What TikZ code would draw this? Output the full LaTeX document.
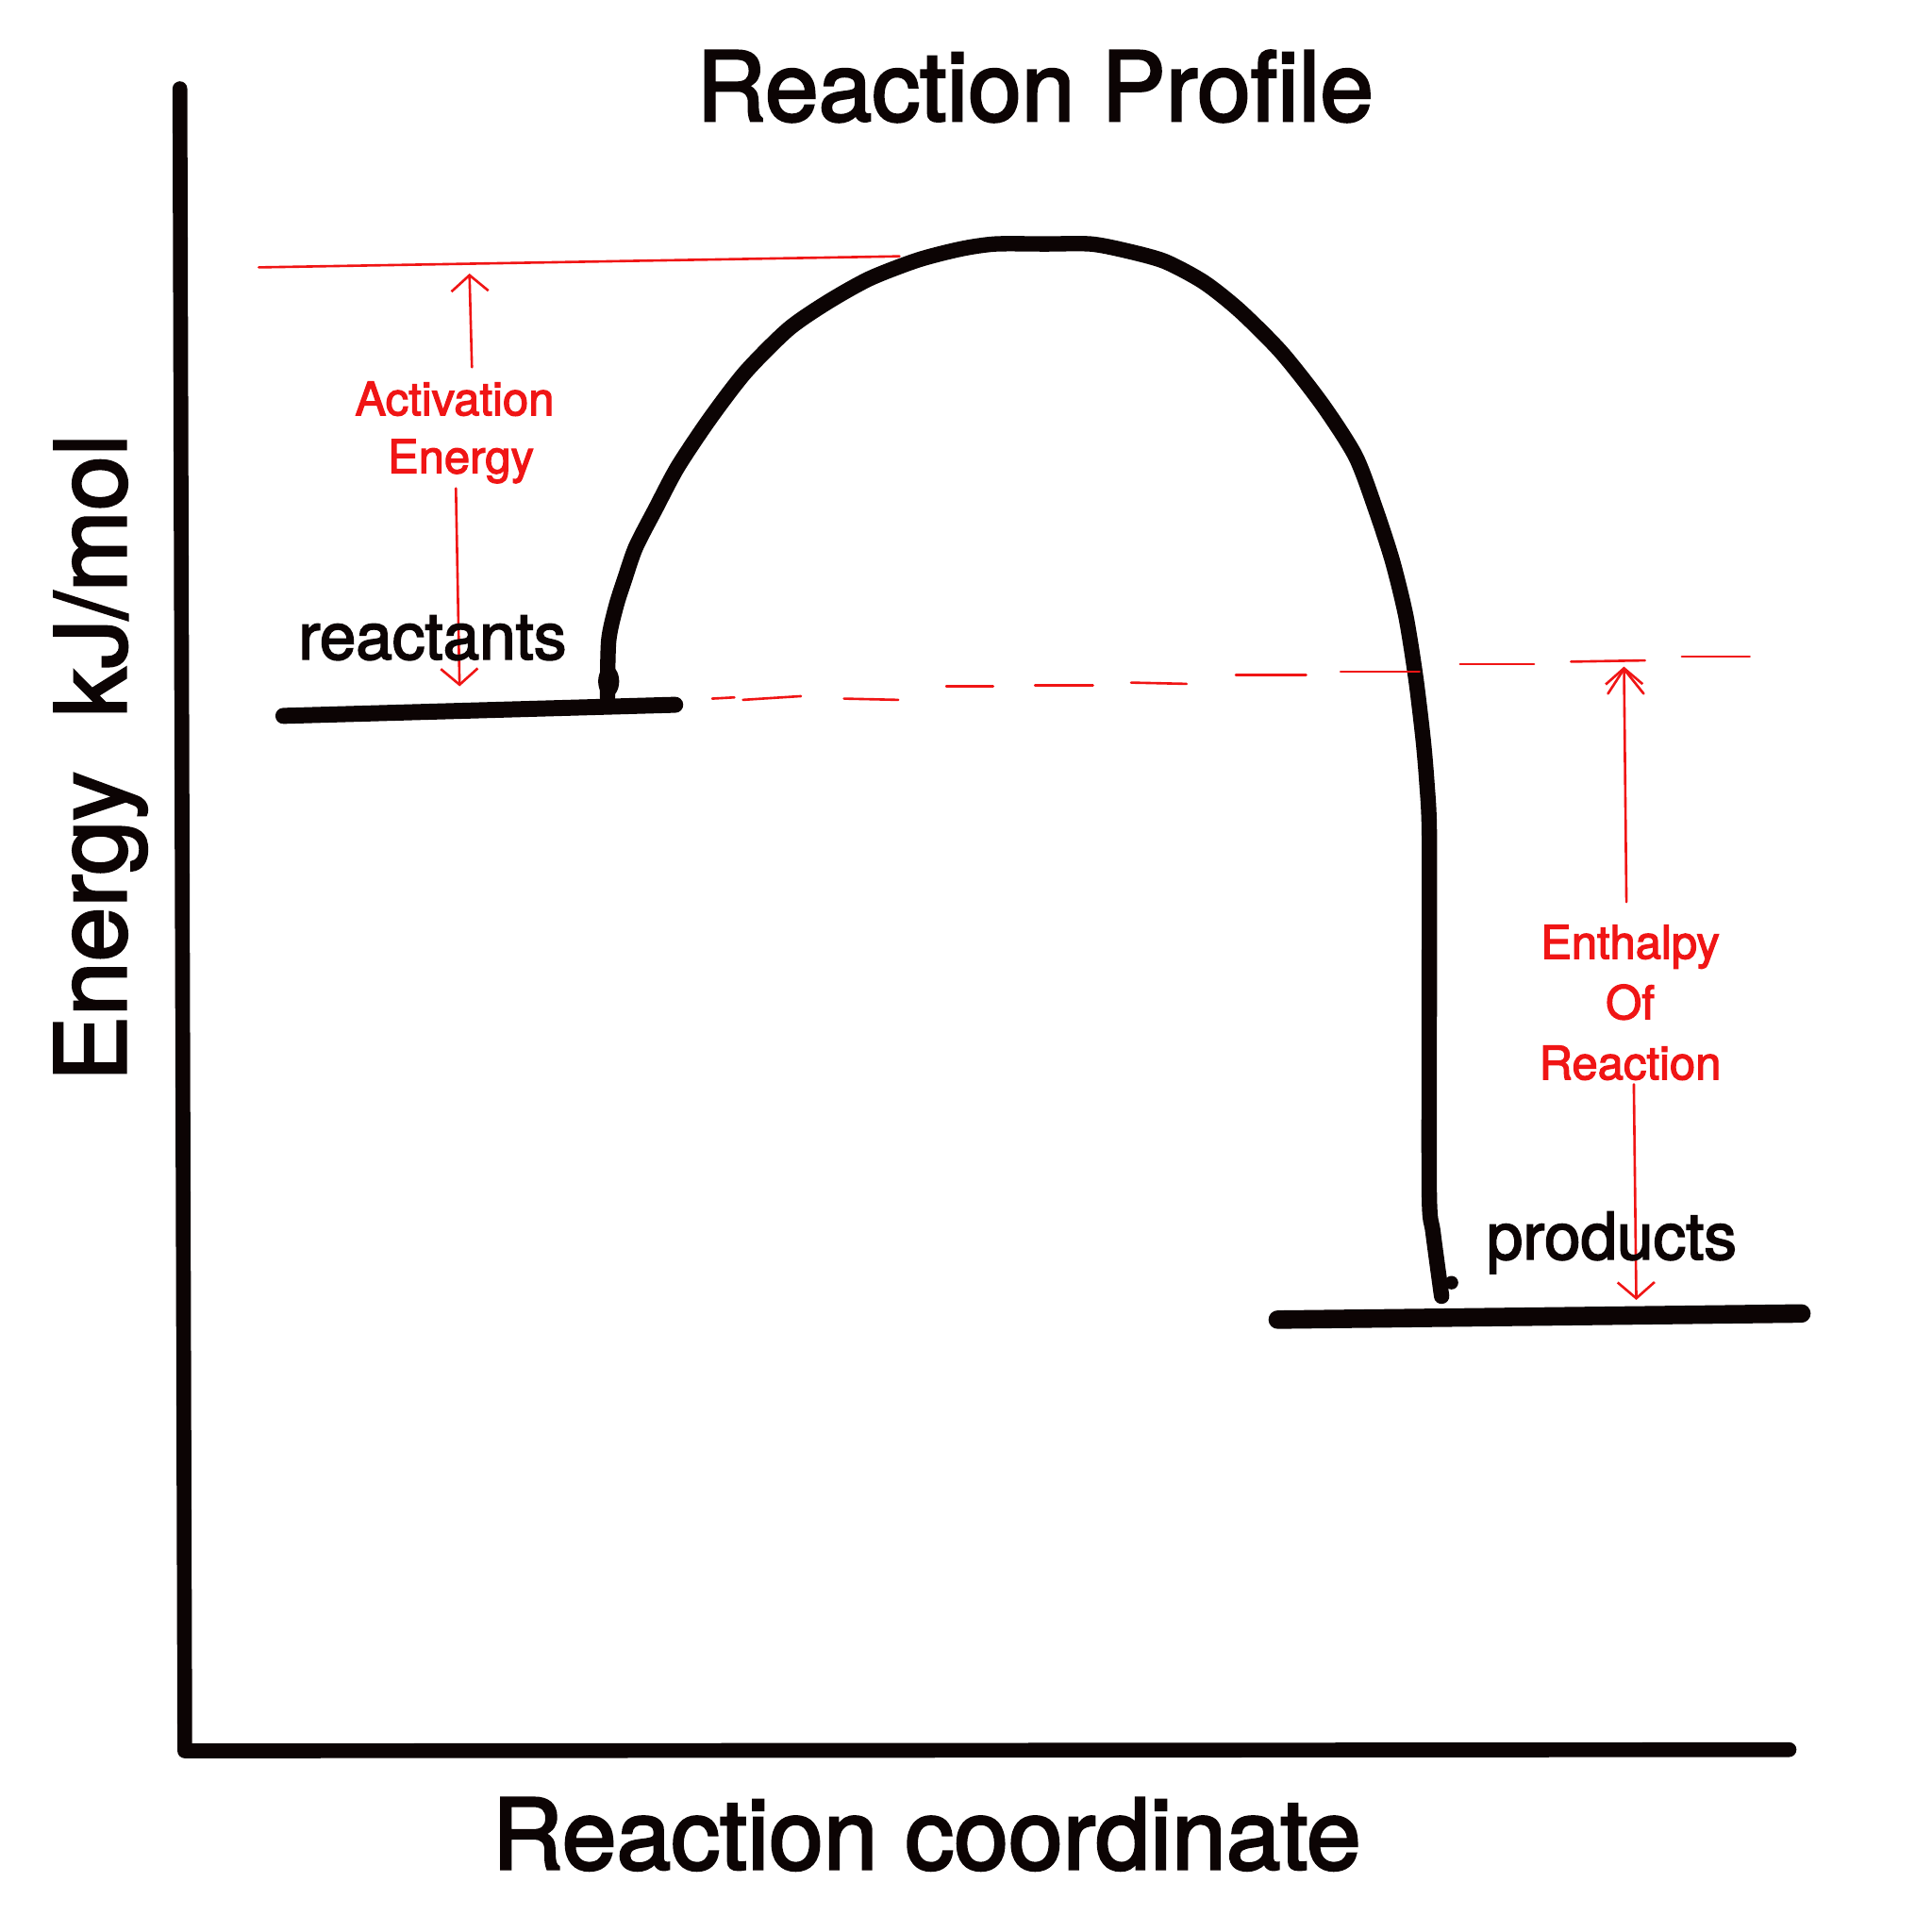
\documentclass[tikz,border=0pt]{standalone}
\usepackage{fontspec}
\usetikzlibrary{arrows.meta}
\setmainfont{TeX Gyre Heros}
\newfontfamily\hvm{TeX Gyre Heros}[BoldFont={TeX Gyre Heros}, BoldFeatures={FakeBold=2.5}]
\definecolor{ink}{HTML}{0C0404}
\definecolor{pen}{HTML}{F01515}
\tikzset{
  thick line/.style={draw=ink, line width=12pt, line cap=round, line join=round},
  thin red/.style={draw=pen, line width=2pt, line cap=round},
  red head/.style={thin red, -{Straight Barb[length=13pt,width=30pt,line width=2pt]}},
  big label/.style={text=ink, font=\hvm\bfseries\fontsize{79.5}{90}\selectfont, inner sep=0pt},
  mid label/.style={text=ink, font=\hvm\bfseries\fontsize{53}{60}\selectfont, inner sep=0pt},
  red label/.style={text=pen, font=\hvm\bfseries\fontsize{37.5}{49}\selectfont, inner sep=0pt},
}
\begin{document}
\begin{tikzpicture}[x=1pt,y=-1pt]
\useasboundingbox[fill=white] (0,0) rectangle (1568,1568);

% axes
\coordinate (ytop) at (146,72);
\coordinate (orig) at (150,1421);
\coordinate (xend) at (1452,1420);
\draw[thick line] (ytop) -- (orig) -- (xend);

% energy levels
\coordinate (r1) at (230,581);
\coordinate (r2) at (548,572);
\coordinate (p1) at (1037,1071);
\coordinate (p2) at (1462,1066);
\draw[thick line, line width=13pt] (r1) -- (r2);
\draw[thick line, line width=15pt] (p1) -- (p2);

% reaction curve
\draw[thick line, line width=12.5pt] plot[smooth, tension=0.45] coordinates {
  (493,566) (494,520) (500,492) (507,470) (516,444) (532,413) (550,379)
  (576,340) (605,302) (640,267) (672,245) (706,226) (745,211) (780,202)
  (808,198) (848,198) (885,198) (912,203) (945,212) (977,229) (1006,252)
  (1040,286) (1073,328) (1100,370) (1116,412) (1130,455) (1141,500)
  (1149,550) (1155,600) (1158,635) (1160,675) (1160,800) (1160,970)
  (1163,1000) (1170,1052)};
\fill[ink] (494,553) ellipse (8.5pt and 13pt);
\fill[ink] (1178,1041) circle (5.5pt);

% activation energy
\coordinate (tl1) at (210,217);
\coordinate (tl2) at (730,208);
\draw[thin red] (tl1) -- (tl2);
\coordinate (aetop) at (381,222);
\coordinate (aebot) at (373,557);
\node[red label, anchor=base] (act) at (369,337) {Activation};
\node[red label, anchor=base] (acten) at (374,384) {Energy};
\draw[red head] (383,298) -- (aetop);
\draw[red head] (acten.south -| 370,0) ++(0,4) -- (aebot);

% dashed reactant level
\foreach \a/\b/\c/\d in {578/567/596/566, 603/568/650/565, 685/567/729/568,
  768/557/806/557, 840/556/887/556, 918/554/963/555, 1003/548/1060/548,
  1088/545/1152/545, 1185/539/1245/539, 1275/537/1335/536, 1365/533/1420/533}
  \draw[thin red] (\a,\b) -- (\c,\d);

% enthalpy of reaction
\node[red label, anchor=base, align=center] (enth) at (1323,876) {Enthalpy\\Of\\Reaction};
\coordinate (ehtop) at (1318,541);
\coordinate (ehbot) at (1328,1055);
\draw[red head] (1320,732) -- (ehtop);
\draw[thin red] (1305,563) -- (1318,543) -- (1334,563);
\draw[red head] (1326,880) -- (ehbot);

% labels
\node[big label, anchor=base, font=\hvm\bfseries\fontsize{78}{90}\selectfont] (title) at (840,98) {Reaction Profile};
\node[big label, anchor=base] (xlab) at (752,1517) {Reaction coordinate};
\node[big label, anchor=base, rotate=90] (ylab) at (102,615) {Energy\ \ kJ/mol};
\node[mid label, anchor=base] (react) at (351,535) {reactants};
\node[mid label, anchor=base] (prod) at (1308,1022) {products};
\end{tikzpicture}
\end{document}
